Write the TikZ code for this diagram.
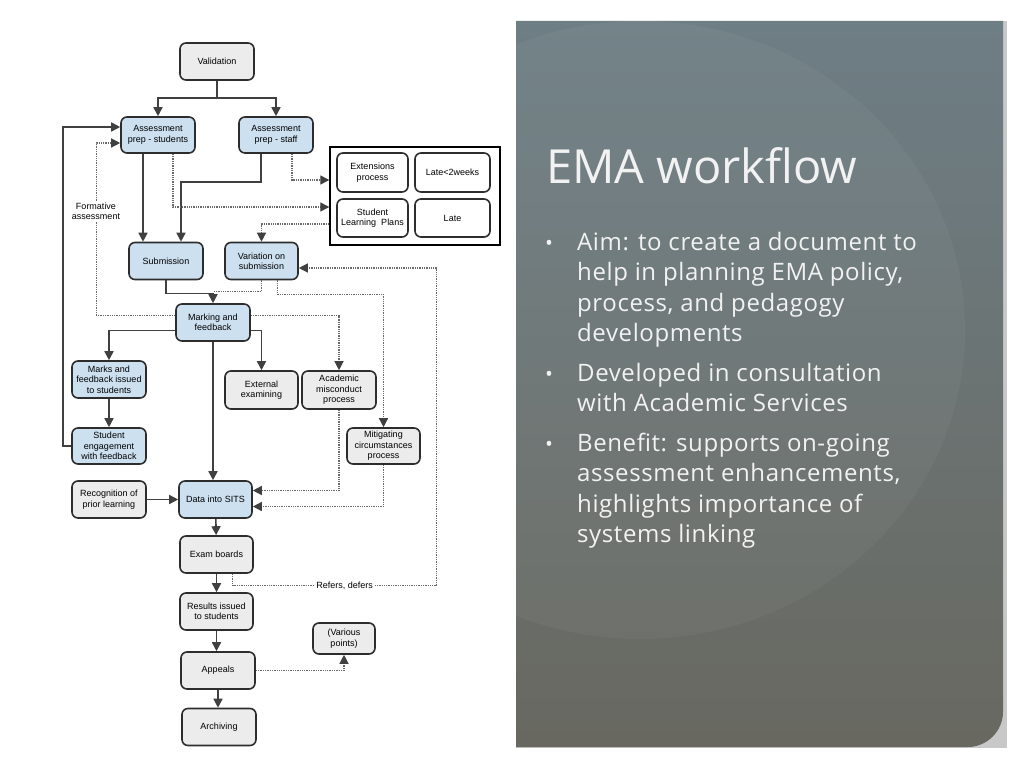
\documentclass[tikz,border=0pt]{standalone}
\usepackage{fontspec}
\setmainfont{Liberation Sans}
\newfontfamily\slidefont[LetterSpace=2.5]{Open Sans}
\newfontfamily\titlefont{Open Sans}
\usetikzlibrary{arrows.meta,calc}
\definecolor{boxblue}{RGB}{205,224,240}
\definecolor{boxgray}{RGB}{236,236,236}
\definecolor{edgec}{RGB}{45,45,45}
\definecolor{lnk}{RGB}{64,64,64}
\definecolor{dotc}{RGB}{105,105,105}
\definecolor{striplight}{RGB}{200,200,200}
\definecolor{paneltop}{RGB}{110,126,133}
\definecolor{panelbot}{RGB}{104,104,96}
\definecolor{slidetext}{RGB}{242,242,242}
\begin{document}
\begin{tikzpicture}[x=1pt,y=-1pt,
  box/.style={draw=edgec, line width=1.6pt, rounded corners=6pt, minimum width=74pt, minimum height=37pt, align=center, font=\fontsize{9}{10.4}\selectfont, inner sep=1pt},
  bbox/.style={box, fill=boxblue},
  gbox/.style={box, fill=boxgray},
  wbox/.style={box, fill=white},
  arr/.style={draw=lnk, line width=1.6pt, -{Triangle[length=9pt,width=9pt,color=lnk]}},
  ln/.style={draw=lnk, line width=1.6pt},
  dotarr/.style={draw=dotc, line width=1.3pt, densely dotted, -{Triangle[length=9pt,width=9pt,color=lnk]}},
  dotln/.style={draw=dotc, line width=1.3pt, densely dotted},
  lbl/.style={fill=white, inner sep=1.5pt, align=center, font=\fontsize{9}{10.4}\selectfont},
  slide/.style={anchor=base west, inner sep=0pt, text=slidetext, font=\slidefont\fontsize{24}{28}\selectfont},
  bul/.style={anchor=base west, inner sep=0pt, text=slidetext, font=\titlefont\fontsize{21}{24}\selectfont},
]
\useasboundingbox (0,0) rectangle (1024,768);
\fill[white] (0,0) rectangle (1024,768);

% ---------- right panel ----------
\fill[striplight] (516,21) rectangle (1007,748);
\shade[top color=paneltop, bottom color=panelbot]
  (516,21) -- (1003,21) -- (1003,712) .. controls (1003,731) and (987,747) .. (968,747) -- (516,747) -- cycle;
\begin{scope}
  \clip (516,21) rectangle (1003,747);
  \fill[white, opacity=0.04] (640,330) ellipse [x radius=325, y radius=309];
\end{scope}

\node[anchor=base west, inner sep=0pt, text=slidetext, font=\titlefont\fontsize{47}{56}\selectfont] (title) at (546,183) {EMA workflow};

\node[bul] (d1) at (545,250) {•};
\node[slide] (a1) at (577,250) {Aim: to create a document to};
\node[slide] (a2) at (577,280.5) {help in planning EMA policy,};
\node[slide] (a3) at (577,311) {process, and pedagogy};
\node[slide] (a4) at (577,341.5) {developments};
\node[bul] (d2) at (545,381) {•};
\node[slide] (b1) at (577,381) {Developed in consultation};
\node[slide] (b2) at (577,411.5) {with Academic Services};
\node[bul] (d3) at (545,451) {•};
\node[slide] (c1) at (577,451) {Benefit: supports on-going};
\node[slide] (c2) at (577,481.5) {assessment enhancements,};
\node[slide] (c3) at (577,512) {highlights importance of};
\node[slide] (c4) at (577,542.5) {systems linking};

% ---------- flowchart nodes ----------
\node[gbox] (val) at (217,61.5) {Validation};
\node[bbox, minimum height=36pt] (aps) at (158,135) {Assessment\\prep - students};
\node[bbox, minimum height=36pt] (apf) at (276,135) {Assessment\\prep - staff};

\node[draw=black, line width=1.4pt, minimum width=170pt, minimum height=98pt, inner sep=0pt] (grp) at (415,196) {};
\node[wbox, minimum width=71pt, minimum height=39pt] (ext1) at (372.5,172.5) {Extensions\\process};
\node[wbox, minimum width=75pt, minimum height=39pt] (late2) at (452.5,172.5) {Late<2weeks};
\node[wbox, minimum width=71pt, minimum height=38pt] (slp) at (372.5,218) {Student\\Learning\ \ Plans};
\node[wbox, minimum width=75pt, minimum height=38pt] (late) at (452.5,218) {Late};

\node[bbox] (sub) at (166,261) {Submission};
\node[bbox, minimum width=73pt] (var) at (261.5,261) {Variation on\\submission};
\node[bbox] (mark) at (213,322.5) {Marking and\\feedback};
\node[bbox] (mfi) at (109,379.5) {Marks and\\feedback issued\\to students};
\node[gbox, minimum width=73pt, minimum height=38pt] (exte) at (261.5,390) {External\\examining};
\node[gbox, minimum height=38pt] (acad) at (339,390) {Academic\\misconduct\\process};
\node[bbox, minimum height=36pt] (seng) at (109,446) {Student\\engagement\\with feedback};
\node[gbox, minimum width=73pt, minimum height=36pt] (mit) at (383.5,446) {Mitigating\\circumstances\\process};
\node[gbox] (rpl) at (109,499.5) {Recognition of\\prior learning};
\node[bbox, minimum width=73pt] (sits) at (215.5,499.5) {Data into SITS};
\node[gbox, minimum width=73pt] (exb) at (216.5,554.5) {Exam boards};
\node[gbox, minimum width=73pt] (res) at (216.5,611.5) {Results issued\\to students};
\node[gbox, minimum width=62pt, minimum height=31pt] (vp) at (344,638.5) {(Various\\points)};
\node[gbox] (app) at (218,670.5) {Appeals};
\node[gbox] (arc) at (219,727) {Archiving};

% ---------- connectors ----------
\draw[arr] (val.south) -- ++(0,17) -| (aps.north);
\draw[arr] (val.south) -- ++(0,17) -| (apf.north);

\draw[arr] (seng.west) -- ++(-8,0) |- ([yshift=8pt]aps.west);
\draw[dotln] ([yshift=7pt]mark.west) -- ++(-79,0) coordinate (fa);
\draw[dotarr] (fa) |- ([yshift=-8pt]aps.west);
\node[lbl] (formlbl) at (96,211) {Formative\\assessment};

\draw[arr] ([xshift=-15pt]aps.south) -- ([xshift=-15pt]aps.south |- sub.north);
\draw[arr] ([xshift=-15pt]apf.south) -- ++(0,28) -| ([xshift=15pt]sub.north);
\draw[dotarr] ([xshift=16pt]apf.south) |- ([yshift=16pt]grp.west);
\draw[dotarr] ([xshift=15pt]aps.south) |- ([yshift=-11pt]grp.west);
\draw[dotarr] ([yshift=-28pt]grp.west) -| (var.north);

\draw[dotln] (var.south) |- ([yshift=12pt]mark.north);
\draw[arr] (sub.south) -- ++(0,13) -| (mark.north);
\draw[dotarr] ([xshift=16pt]var.south) -- ++(0,14) -| (mit.north);

\draw[dotarr] ([yshift=7pt]mark.east) -| (acad.north);
\draw[arr] ([yshift=-8pt]mark.east) -| (exte.north);
\draw[arr] ([yshift=-8pt]mark.west) -| (mfi.north);
\draw[arr] (mfi) -- (seng);
\draw[arr] (mark.south) -- (mark.south |- sits.north);

\draw[dotarr] (acad.south) |- ([yshift=9pt]sits.east);
\draw[dotarr] (mit.south) |- ([yshift=-7pt]sits.east);
\draw[arr] (rpl) -- (sits);

\draw[arr] (sits) -- (exb);
\draw[arr] (exb) -- (res);
\draw[arr] (res.south) -- (res.south |- app.north);
\draw[arr] (app.south) -- (app.south |- arc.north);

\draw[dotarr] ([xshift=16pt]exb.south) -- ++(0,12)
  -- node[lbl, pos=0.55] (refl) {Refers, defers} ++(204,0)
  |- ([yshift=-7pt]var.east);
\draw[dotarr] (app.east) -| (vp.south);
\end{tikzpicture}
\end{document}
